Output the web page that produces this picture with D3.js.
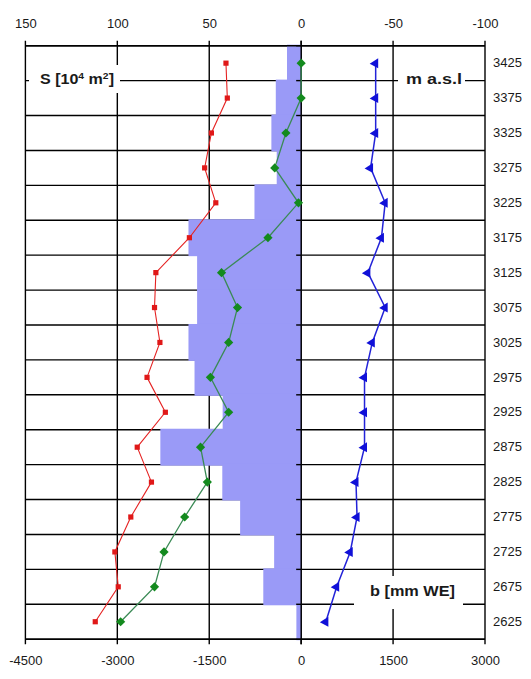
<!DOCTYPE html>
<html>
<head>
<meta charset="utf-8">
<script src="https://cdn.jsdelivr.net/npm/d3@7"></script>
<style>
  html, body { margin: 0; padding: 0; background: #fff; }
  svg { display: block; }
</style>
</head>
<body>
<svg id="chart" width="531" height="679"></svg>
<script>
// ---- data ----
const elevations = [3425, 3375, 3325, 3275, 3225, 3175, 3125, 3075, 3025, 2975, 2925, 2875, 2825, 2775, 2725, 2675, 2625];
// area S [10^4 m2] per band (top axis)
const areaS = [7.7, 13.8, 16.2, 13.3, 25.4, 61.3, 56.6, 56.6, 61.3, 58.0, 42.7, 76.6, 42.9, 33.2, 14.7, 20.6, 2.6];
// mass balance b [mm WE] (bottom axis)
const ablation = [-1227, -1205, -1465, -1575, -1393, -1824, -2371, -2393, -2305, -2515, -2216, -2675, -2443, -2780, -3040, -2985, -3360];
const netBalance = [0, 0, -249, -431, -44, -542, -1299, -1039, -1183, -1481, -1183, -1642, -1531, -1901, -2238, -2393, -2946];
const accumulation = [1216, 1216, 1216, 1133, 1371, 1310, 1089, 1371, 1161, 1034, 1034, 1034, 895, 912, 801, 580, 403];
const topTicks = [150, 100, 50, 0, -50, -100];
const bottomTicks = [-4500, -3000, -1500, 0, 1500, 3000];

// ---- layout ----
const L = 25.4, R = 485, T = 45.7, B = 639.2;
const svg = d3.select("#chart");
const xTop = d3.scaleLinear().domain([150, -100]).range([L, R]);
const xBot = d3.scaleLinear().domain([-4500, 3000]).range([L, R]);
const y = d3.scaleBand().domain(elevations).range([T, B]).padding(0);
const bounds = elevations.map(e => y(e)).concat([B]);

const font = "'Liberation Sans', Arial, sans-serif";

// gridlines
const grid = svg.append("g").attr("stroke", "#000").attr("stroke-width", 1.4);
grid.selectAll("line.h").data(bounds).join("line")
  .attr("x1", L).attr("x2", R).attr("y1", d => d).attr("y2", d => d);
grid.selectAll("line.v").data(topTicks).join("line")
  .attr("x1", d => xTop(d)).attr("x2", d => xTop(d)).attr("y1", T - 5).attr("y2", B + 5);

// label boxes (cover gridlines)
const boxes = [
  {x: 29, y: 65, w: 91, h: 28},
  {x: 398, y: 66, w: 67, h: 26},
  {x: 354, y: 576, w: 109, h: 33}
];
svg.append("g").selectAll("rect").data(boxes).join("rect")
  .attr("x", d => d.x).attr("y", d => d.y).attr("width", d => d.w).attr("height", d => d.h)
  .attr("fill", "#fff");

// bars (slightly overlapping so the row gridlines are hidden beneath them)
svg.append("g").selectAll("rect").data(elevations).join("rect")
  .attr("x", (d, i) => xTop(areaS[i]))
  .attr("y", d => y(d) - 1)
  .attr("width", (d, i) => xTop(0) - xTop(areaS[i]))
  .attr("height", y.bandwidth() + 2)
  .attr("fill", "#9a9af7");

// top & bottom borders over bars
const bg = svg.append("g").attr("stroke", "#000").attr("stroke-width", 1.4);
bg.selectAll("line").data([T, B]).join("line")
  .attr("x1", L).attr("x2", R).attr("y1", d => d).attr("y2", d => d);

// zero axis with left ticks
const x0 = xTop(0);
const zg = svg.append("g").attr("stroke", "#000").attr("stroke-width", 1.4);
zg.append("line").attr("x1", x0).attr("x2", x0).attr("y1", T - 5).attr("y2", B + 5);
zg.selectAll("line.t").data(bounds).join("line")
  .attr("x1", x0 - 5).attr("x2", x0).attr("y1", d => d).attr("y2", d => d);

// top axis
const gTop = svg.append("g").attr("transform", `translate(0,${T})`)
  .call(d3.axisTop(xTop).tickValues(topTicks).tickSize(0).tickPadding(17.5).tickFormat(d3.format("d")));
// bottom axis
const gBot = svg.append("g").attr("transform", `translate(0,${B})`)
  .call(d3.axisBottom(xBot).tickValues(bottomTicks).tickSize(0).tickPadding(17).tickFormat(d3.format("d")));
// right axis (elevations)
const gRight = svg.append("g").attr("transform", `translate(${R},0)`)
  .call(d3.axisRight(y).tickSize(0).tickPadding(8));
[gTop, gBot, gRight].forEach(g => {
  g.select(".domain").remove();
  g.selectAll("text").attr("font-family", font).attr("font-size", 13).attr("fill", "#1a1a1a");
});
gTop.selectAll("text").text(d => String(d));
gBot.selectAll("text").text(d => String(d));

// series
const cy = d => y(d) + y.bandwidth() / 2;
const series = [
  {vals: ablation, line: "#e52222", lw: 1.1, fill: "#e01818", shape: "M-2.6,-2.6H2.6V2.6H-2.6Z"},
  {vals: netBalance, line: "#3a8a55", lw: 1.3, fill: "#138a1e", shape: "M0,-4.6L4.6,0L0,4.6L-4.6,0Z"},
  {vals: accumulation, line: "#2323d8", lw: 1.5, fill: "#1010d8", shape: "M-6,0.5L2.5,-5L2.5,5Z"}
];
series.forEach(s => {
  const pts = elevations.map((e, i) => [xBot(s.vals[i]), cy(e)]);
  svg.append("path").attr("d", d3.line()(pts))
    .attr("fill", "none").attr("stroke", s.line).attr("stroke-width", s.lw);
  svg.append("g").selectAll("path").data(pts).join("path")
    .attr("transform", d => `translate(${d[0]},${d[1]})`)
    .attr("d", s.shape).attr("fill", s.fill);
});

// axis titles
const t1 = svg.append("text").attr("x", 40).attr("y", 84)
  .attr("font-family", font).attr("font-weight", "bold").attr("font-size", 14).attr("fill", "#1a1a1a")
  .attr("textLength", 74).attr("lengthAdjust", "spacingAndGlyphs");
t1.append("tspan").text("S [10");
t1.append("tspan").attr("dy", -5).attr("font-size", 9).text("4");
t1.append("tspan").attr("dy", 5).text(" m");
t1.append("tspan").attr("dy", -5).attr("font-size", 9).text("2");
t1.append("tspan").attr("dy", 5).text("]");

svg.append("text").attr("x", 406).attr("y", 84)
  .attr("font-family", font).attr("font-weight", "bold").attr("font-size", 14).attr("fill", "#1a1a1a")
  .attr("textLength", 56).attr("lengthAdjust", "spacingAndGlyphs").text("m a.s.l");

svg.append("text").attr("x", 370).attr("y", 596)
  .attr("font-family", font).attr("font-weight", "bold").attr("font-size", 14).attr("fill", "#1a1a1a")
  .attr("textLength", 85).attr("lengthAdjust", "spacingAndGlyphs").text("b [mm WE]");
</script>
</body>
</html>
